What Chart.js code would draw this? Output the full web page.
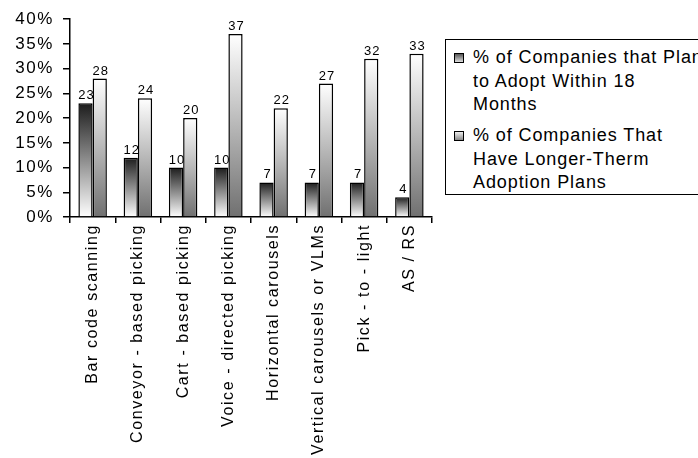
<!DOCTYPE html>
<html>
<head>
<meta charset="utf-8">
<script src="https://cdn.jsdelivr.net/npm/chart.js@4/dist/chart.umd.min.js"></script>
<style>
  html, body { margin: 0; padding: 0; background: #fff; overflow: hidden; }
  #wrap { position: relative; width: 698px; height: 458px; overflow: hidden; }
  canvas { position: absolute; left: 0; top: 0; }
  #legend {
    position: absolute; left: 445px; top: 39px; width: 280px; height: 156px;
    border: 1.5px solid #000; background: #fff; box-sizing: border-box;
    font-family: "Liberation Sans", Arial, sans-serif; font-size: 18px;
    letter-spacing: 0.9px; color: #000; white-space: nowrap;
  }
  .item { position: absolute; left: 27px; line-height: 23.5px; }
  .sw { position: absolute; left: -19px; top: 7px; width: 8px; height: 8px; border: 1px solid #000; }
</style>
</head>
<body>
<div id="wrap">
  <canvas id="c" width="698" height="458"></canvas>
  <div id="legend"></div>
</div>
<script>
const categories = ["Bar code scanning", "Conveyor - based picking", "Cart - based picking", "Voice - directed picking", "Horizontal carousels", "Vertical carousels or VLMs", "Pick - to - light", "AS / RS"];
const plan18Months = [23, 12, 10, 10, 7, 7, 7, 4];
const longerTerm = [28, 24, 20, 37, 22, 27, 32, 33];
const series1Lines = ["% of Companies that Plan", "to Adopt Within 18", "Months"];
const series2Lines = ["% of Companies That", "Have Longer-Therm", "Adoption Plans"];
const yTickMax = 40;
const yTickStep = 5;

function gradFill(topColor, bottomColor) {
  return function (ctx) {
    const chart = ctx.chart;
    if (!chart.chartArea || ctx.type !== 'data') return '#888';
    const ys = chart.scales.y;
    const top = ys.getPixelForValue(ctx.raw);
    const bot = ys.getPixelForValue(0);
    const g = chart.ctx.createLinearGradient(0, top, 0, bot);
    g.addColorStop(0, topColor);
    g.addColorStop(1, bottomColor);
    return g;
  };
}

const spacing = {
  id: 'spacing',
  beforeUpdate(chart) { chart.ctx.letterSpacing = '1.6px'; },
  beforeLayout(chart) { chart.ctx.letterSpacing = '1.6px'; },
  beforeDraw(chart) { chart.ctx.letterSpacing = '1.6px'; }
};

const valueLabels = {
  id: 'valueLabels',
  afterDatasetsDraw(chart) {
    const ctx = chart.ctx;
    ctx.save();
    ctx.letterSpacing = '1px';
    ctx.font = '13px "Liberation Sans", Arial, sans-serif';
    ctx.fillStyle = '#000';
    ctx.textAlign = 'center';
    ctx.textBaseline = 'bottom';
    chart.data.datasets.forEach((ds, i) => {
      chart.getDatasetMeta(i).data.forEach((bar, j) => {
        ctx.fillText(String(ds.data[j]), bar.x + 1, bar.y - 1);
      });
    });
    ctx.restore();
  }
};

const chart = new Chart(document.getElementById('c'), {
  type: 'bar',
  data: {
    labels: categories,
    datasets: [
      { label: series1Lines.join(' '), data: plan18Months,
        backgroundColor: gradFill('#1c1c1c', '#ffffff'),
        borderColor: '#000', borderWidth: 1.5 },
      { label: series2Lines.join(' '), data: longerTerm,
        backgroundColor: gradFill('#ffffff', '#707070'),
        borderColor: '#000', borderWidth: 1.5 }
    ]
  },
  options: {
    responsive: false,
    animation: false,
    layout: { padding: { left: 0, top: 19, right: 266, bottom: 0 } },
    plugins: { legend: { display: false }, tooltip: { enabled: false } },
    datasets: { bar: { categoryPercentage: 0.63, barPercentage: 1.0 } },
    scales: {
      x: {
        afterFit(s) { s.height = 241; },
        grid: { drawOnChartArea: false, drawTicks: true, tickLength: 6, color: '#000', lineWidth: 1.5, offset: true },
        border: { display: true, color: '#000', width: 1.5 },
        ticks: {
          autoSkip: false, minRotation: 90, maxRotation: 90, padding: 1,
          color: '#000', font: { family: '"Liberation Sans", Arial, sans-serif', size: 16 }
        }
      },
      y: {
        min: 0, max: yTickMax,
        afterFit(s) { s.width = 70; },
        grid: { drawOnChartArea: false, drawTicks: true, tickLength: 7, color: '#000', lineWidth: 1.5 },
        border: { display: true, color: '#000', width: 1.5 },
        ticks: {
          stepSize: yTickStep, padding: 9, color: '#000',
          font: { family: '"Liberation Sans", Arial, sans-serif', size: 17 },
          callback: v => v + '%'
        }
      }
    }
  },
  plugins: [spacing, valueLabels]
});

// HTML legend built from the series labels
const legend = document.getElementById('legend');
const swatches = ['linear-gradient(#555, #ddd)', 'linear-gradient(#eee, #888)'];
[series1Lines, series2Lines].forEach((lines, i) => {
  const d = document.createElement('div');
  d.className = 'item';
  d.style.top = (i === 0 ? 6 : 84) + 'px';
  const sw = document.createElement('span');
  sw.className = 'sw';
  sw.style.background = swatches[i];
  d.appendChild(sw);
  lines.forEach(t => {
    const l = document.createElement('div');
    l.textContent = t;
    d.appendChild(l);
  });
  legend.appendChild(d);
});
</script>
</body>
</html>
